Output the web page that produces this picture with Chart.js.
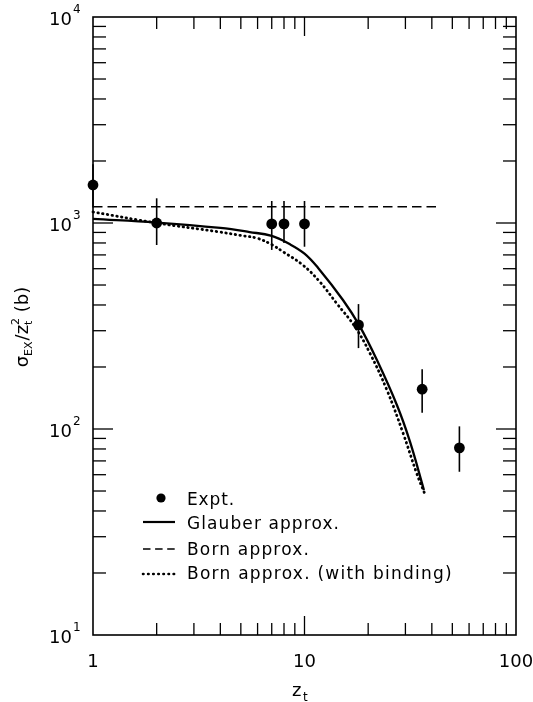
<!DOCTYPE html>
<html><head><meta charset="utf-8">
<script src="https://cdn.jsdelivr.net/npm/chart.js@4.4.0/dist/chart.umd.min.js"></script>
<style>html,body{margin:0;padding:0;background:#fff;}#wrap{width:533px;height:702px;}</style>
</head><body><div id="wrap"><canvas id="c" width="533" height="702"></canvas></div>
<script>
// ---- data ----
const exptZ = [1, 2, 7, 8, 10, 18, 36, 54];
const exptSigma = [1530, 1000, 990, 990, 990, 320, 156, 81];
const exptLow = [1190, 782, 740, 800, 767, 247, 120, 62];
const exptHigh = [1930, 1318, 1279, 1279, 1279, 404, 195, 103];

const glauberZ = [1, 2, 4, 5.5, 7, 8.5, 10, 11.6, 15.2, 18.1, 22, 27.4, 31.5, 36.7];
const glauberSigma = [1046, 1005, 946, 904, 865, 790, 710, 605, 423, 320, 216, 130, 87, 50.6];

const bornZ = [1, 44];
const bornSigma = [1200, 1200];

const bindingZ = [1, 2, 3.9, 5, 6, 7, 8, 9.8, 11.8, 14.2, 17.3, 20.4, 24.5, 29.3, 33.9, 37.1];
const bindingSigma = [1131, 1000, 907, 870, 842, 785, 720, 626, 519, 407, 314, 233, 155, 95, 61, 48.3];

const xTickValues = [1, 10, 100];
const xTickLabels = ['1', '10', '100'];
const yTickValues = [10, 100, 1000, 10000];
const yTickBase = '10';
const yTickExps = ['1', '2', '3', '4'];

const legendLabels = ['Expt.', 'Glauber approx.', 'Born approx.', 'Born approx. (with binding)'];

const FONT = '"DejaVu Sans", "Liberation Sans", sans-serif';
const INK = '#000';

function pts(xs, ys) { return xs.map((v, i) => ({x: v, y: ys[i]})); }

function fitText(ctx, text, x, y, size, targetW) {
  ctx.font = size + 'px ' + FONT;
  let sp = 0;
  if (targetW && 'letterSpacing' in ctx) {
    ctx.letterSpacing = '0px';
    const w = ctx.measureText(text).width;
    sp = (targetW - w) / Math.max(1, text.length);
    ctx.letterSpacing = sp.toFixed(2) + 'px';
  }
  ctx.fillText(text, x, y);
  if ('letterSpacing' in ctx) ctx.letterSpacing = '0px';
}

const deco = {
  id: 'deco',
  beforeDatasetsDraw(chart) {
    const {ctx, scales: {x, y}} = chart;
    ctx.save();
    ctx.strokeStyle = INK; ctx.lineWidth = 1.6;
    exptZ.forEach((z, i) => {
      const px = x.getPixelForValue(z);
      ctx.beginPath();
      ctx.moveTo(px, y.getPixelForValue(exptLow[i]));
      ctx.lineTo(px, y.getPixelForValue(exptHigh[i]));
      ctx.stroke();
    });
    ctx.restore();
  },
  afterDraw(chart) {
    const {ctx, chartArea: {left, right, top, bottom}, scales: {x, y}} = chart;
    ctx.save();
    ctx.strokeStyle = INK; ctx.fillStyle = INK;
    // frame
    ctx.lineWidth = 1.6;
    ctx.strokeRect(left, top, right - left, bottom - top);
    // ticks
    ctx.lineWidth = 1.3;
    const seg = (a, b, c, d) => { ctx.beginPath(); ctx.moveTo(a, b); ctx.lineTo(c, d); ctx.stroke(); };
    for (let d = 0; d < 2; d++) {
      for (let k = 1; k <= 9; k++) {
        const v = k * Math.pow(10, d);
        if (v <= xTickValues[0]) continue;
        const px = x.getPixelForValue(v);
        const len = k === 1 ? 19 : 12;
        seg(px, bottom, px, bottom - len);
        seg(px, top, px, top + len);
      }
    }
    for (let d = 1; d < 4; d++) {
      for (let k = 1; k <= 9; k++) {
        const v = k * Math.pow(10, d);
        if (v <= yTickValues[0]) continue;
        const py = y.getPixelForValue(v);
        const len = k === 1 ? 20 : 13;
        seg(left, py, left + len, py);
        seg(right, py, right - len, py);
      }
    }
    // y tick labels
    yTickValues.forEach((v, i) => {
      const py = y.getPixelForValue(v);
      ctx.textAlign = 'right'; ctx.textBaseline = 'alphabetic';
      ctx.font = '18px ' + FONT;
      ctx.fillText(yTickBase, 72, py + 8);
      ctx.textAlign = 'left';
      ctx.font = '12px ' + FONT;
      ctx.fillText(yTickExps[i], 73, py - 4);
    });
    // x tick labels
    ctx.textAlign = 'center';
    ctx.font = '18px ' + FONT;
    xTickValues.forEach((v, i) => {
      ctx.fillText(xTickLabels[i], x.getPixelForValue(v), 667);
    });
    // x title z_t
    ctx.font = '18px ' + FONT;
    ctx.textAlign = 'left';
    ctx.fillText('z', 292, 696);
    ctx.font = '12px ' + FONT;
    ctx.fillText('t', 303, 701);
    // y title
    ctx.save();
    ctx.translate(28, 327);
    ctx.rotate(-Math.PI / 2);
    const parts = [
      {t: 'σ', s: 18, dy: 0},
      {t: 'EX', s: 11, dy: 4},
      {t: '/', s: 18, dy: 0},
      {t: 'z', s: 18, dy: 0},
      {t: '2', s: 11, dy: -9, stack: 't'},
      {t: ' (b)', s: 18, dy: 0}
    ];
    let total = 0;
    parts.forEach(p => { ctx.font = p.s + 'px ' + FONT; p.w = ctx.measureText(p.t).width + (p.t === 'EX' ? 1 : 0); total += p.w; });
    let u = -total / 2;
    ctx.textAlign = 'left';
    parts.forEach(p => {
      ctx.font = p.s + 'px ' + FONT;
      ctx.fillText(p.t, u, p.dy);
      if (p.stack) ctx.fillText(p.stack, u, 4);
      u += p.w;
    });
    ctx.restore();
    // legend
    ctx.textAlign = 'left'; ctx.textBaseline = 'alphabetic';
    const tx = 187;
    const rows = [505, 529, 555, 579];
    ctx.beginPath(); ctx.arc(161, 498, 4.6, 0, Math.PI * 2); ctx.fill();
    ctx.lineWidth = 2.2; ctx.setLineDash([]);
    seg(143, 522, 175, 522);
    ctx.lineWidth = 1.4; ctx.setLineDash([7.5, 4.6]);
    seg(143, 549, 175, 549);
    ctx.lineWidth = 2.6; ctx.lineCap = 'round'; ctx.setLineDash([0.5, 4.6]);
    seg(143, 574, 175, 574);
    ctx.setLineDash([]); ctx.lineCap = 'butt';
    const widths = [48, 153, 123, 266];
    legendLabels.forEach((t, i) => fitText(ctx, t, tx, rows[i], 17, widths[i]));
    ctx.restore();
  }
};

new Chart(document.getElementById('c'), {
  type: 'line',
  data: {
    datasets: [
      {label: legendLabels[0], data: pts(exptZ, exptSigma), showLine: false,
       pointRadius: 5.4, pointHoverRadius: 5.4, pointBackgroundColor: INK, pointBorderWidth: 0, clip: false},
      {label: legendLabels[1], data: pts(glauberZ, glauberSigma), borderColor: INK, borderWidth: 2.3,
       pointRadius: 0, tension: 0.4, fill: false, clip: false},
      {label: legendLabels[2], data: pts(bornZ, bornSigma), borderColor: INK, borderWidth: 1.4,
       borderDash: [9.5, 5], pointRadius: 0, fill: false, clip: false},
      {label: legendLabels[3], data: pts(bindingZ, bindingSigma), borderColor: INK, borderWidth: 2.8,
       borderDash: [0.5, 4.3], borderCapStyle: 'round', pointRadius: 0,
       tension: 0.4, fill: false, clip: false}
    ]
  },
  options: {
    responsive: false, animation: false, devicePixelRatio: 1,
    layout: {padding: {left: 93, top: 17, right: 17, bottom: 67}},
    scales: {
      x: {type: 'logarithmic', min: 1, max: 100, display: false},
      y: {type: 'logarithmic', min: 10, max: 10000, display: false}
    },
    plugins: {legend: {display: false}, tooltip: {enabled: false}},
    events: []
  },
  plugins: [deco]
});
</script></body></html>
